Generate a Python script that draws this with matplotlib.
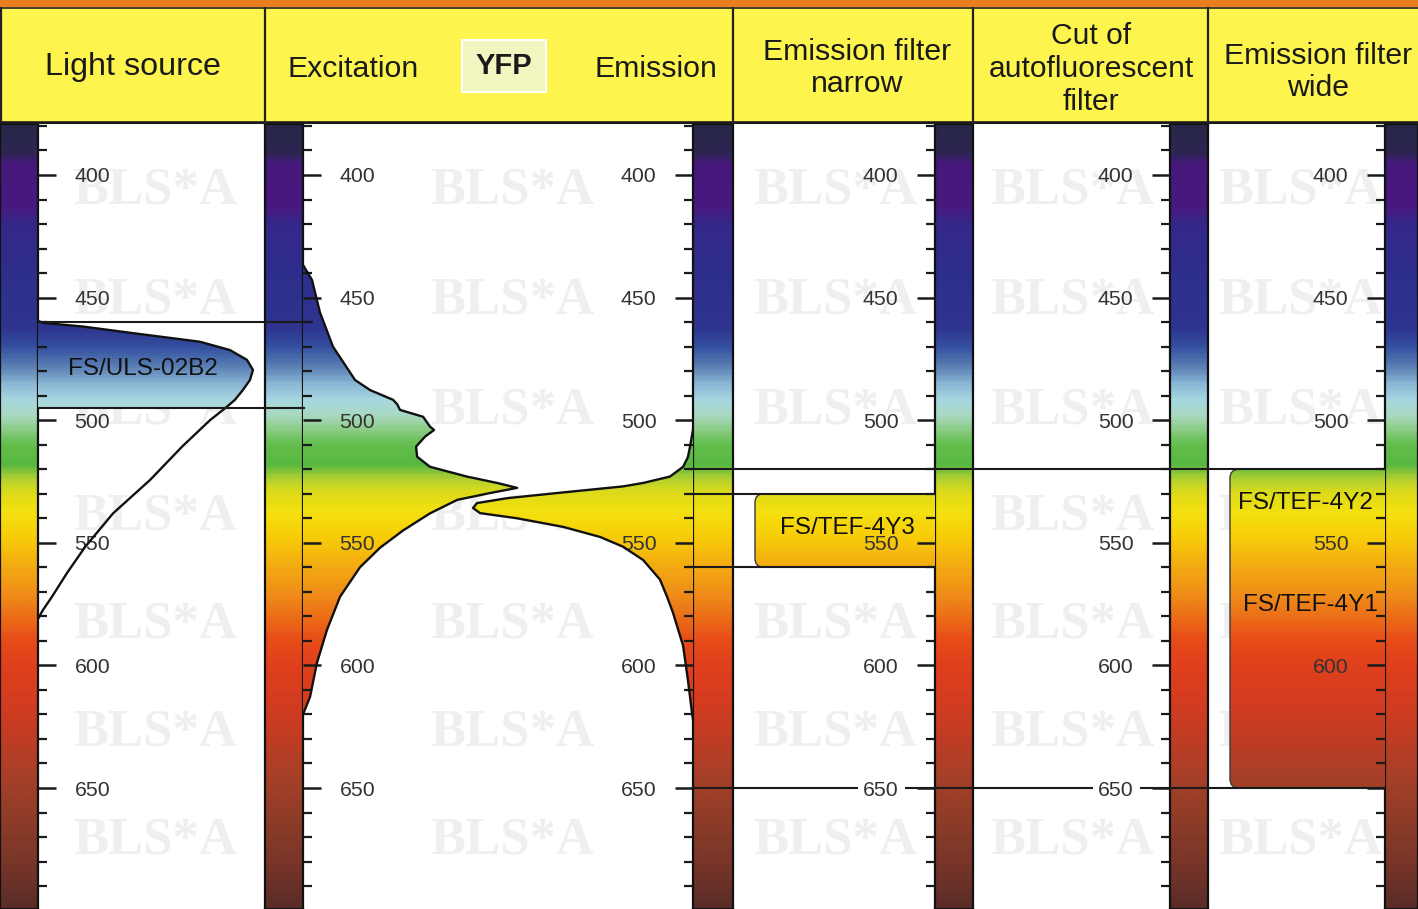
import numpy as np
import matplotlib
matplotlib.use("Agg")
import matplotlib.pyplot as plt
from matplotlib.colors import LinearSegmentedColormap, Normalize
from matplotlib.patches import Rectangle, FancyBboxPatch

# ---------------- data ----------------
# spectral colour scale (wavelength nm -> colour)
spec_nm = [380, 390, 395, 412, 420, 440, 462, 470, 478, 486, 492, 498, 504, 510,
           518, 524, 530, 538, 548, 558, 570, 580, 590, 600, 615, 630, 645, 665, 680, 700]
spec_hex = ['#28264a', '#2c2650', '#46197c', '#48187e', '#34288a', '#2e2e8c', '#2e3490',
            '#3450a0', '#5a80b4', '#90bcd8', '#a8d8e0', '#a8d8c0', '#8ccc84', '#62be4c',
            '#58b840', '#b0d030', '#e0dc18', '#f4e010', '#f8cc08', '#f4b010', '#f09018',
            '#ec7018', '#e84c18', '#e0401c', '#d43c20', '#c03c24', '#a84028', '#8c3c28',
            '#7a3628', '#5a2c28']

# light source FS/ULS-02B2 (relative intensity)
light_nm = [459.5, 460.3, 461.8, 464.5, 468, 471.4, 475.4, 479.5, 483.6, 487.7, 491.7,
            494.5, 500, 510.8, 524.4, 538, 551.7, 562.3, 572, 577.4, 581]
light_int = [0, 0.023, 0.209, 0.442, 0.753, 0.893, 0.972, 1.0, 0.986, 0.953, 0.916,
             0.879, 0.800, 0.670, 0.521, 0.349, 0.219, 0.135, 0.065, 0.023, 0.0]
light_band = [460, 495]

# YFP excitation / emission (relative)
exc_nm = [436.7, 442.8, 456, 470, 483.6, 487.7, 491.7, 493.5, 495.8, 498.6, 502.6, 504,
          506.7, 510.8, 514.9, 519, 523, 525.6, 527.6, 529.7, 532.5, 538, 545, 552, 560,
          572, 585.5, 599, 612.8, 620]
exc_int = [0, 0.042, 0.079, 0.140, 0.243, 0.313, 0.421, 0.440, 0.453, 0.561, 0.593, 0.612,
           0.570, 0.528, 0.533, 0.593, 0.766, 0.907, 1.0, 0.874, 0.720, 0.593, 0.467, 0.360,
           0.266, 0.173, 0.112, 0.065, 0.033, 0.0]
em_nm = [504, 511, 515, 519, 523, 525.6, 527, 529.7, 531.8, 533.8, 535.8, 537.9, 540,
         543.5, 547.6, 551.6, 557, 565, 572, 578.5, 592, 606, 619, 622]
em_int = [0, 0.014, 0.023, 0.045, 0.105, 0.227, 0.318, 0.618, 0.845, 0.982, 1.0, 0.968,
          0.800, 0.591, 0.423, 0.318, 0.227, 0.150, 0.118, 0.091, 0.045, 0.023, 0.005, 0.0]

narrow_band = [530, 560]      # FS/TEF-4Y3
cutoff_nm = 520               # autofluorescence cut
wide_band = [520, 650]        # FS/TEF-4Y2 / 4Y1

major_ticks = [400, 450, 500, 550, 600, 650]
minor_ticks = list(range(380, 700, 10))

headers = ["Light source", "Excitation", "YFP", "Emission", "Emission filter\nnarrow",
           "Cut of\nautofluorescent\nfilter", "Emission filter\nwide"]
filter_labels = ["FS/ULS-02B2", "FS/TEF-4Y3", "FS/TEF-4Y2", "FS/TEF-4Y1"]

# ---------------- layout ----------------
W, H = 1418, 909
TOP, BOT = 124, 909
PX_PER_NM = 2.452
def lam_at(y):
    return 400 + (y - 175) / PX_PER_NM
LAM_TOP, LAM_BOT = lam_at(TOP), lam_at(BOT)

plt.rcParams['font.family'] = ['Liberation Sans', 'DejaVu Sans']
fig = plt.figure(figsize=(W / 100, H / 100), dpi=100)
fig.patch.set_facecolor('white')

cmap = LinearSegmentedColormap.from_list(
    'spec', [((n - 380) / 320, c) for n, c in zip(spec_nm, spec_hex)])
norm = Normalize(380, 700)

def add_ax(x0, x1, y0=TOP, y1=BOT, z=1):
    ax = fig.add_axes([x0 / W, 1 - y1 / H, (x1 - x0) / W, (y1 - y0) / H])
    ax.set_zorder(z)
    ax.patch.set_alpha(0)
    for s in ax.spines.values():
        s.set_visible(False)
    ax.xaxis.set_visible(False)
    return ax

def gradient(ax, x0, x1, lo, hi, **kw):
    vals = np.linspace(lo, hi, 400)[:, None]
    return ax.imshow(vals, extent=[x0, x1, lo, hi], origin='lower', aspect='auto',
                     cmap=cmap, norm=norm, interpolation='bilinear', **kw)

def style_ticks(ax, side, hide=()):
    ax.yaxis.set_ticks_position(side)
    ax.set_yticks(major_ticks)
    ax.set_yticks(minor_ticks, minor=True)
    ax.set_yticklabels(['' if t in hide else str(t) for t in major_ticks])
    ax.tick_params(axis='y', which='major', direction='in', length=13, width=1.8,
                   color='#1a1a1a', pad=-52, labelsize=15.3, labelcolor='#333333')
    ax.tick_params(axis='y', which='minor', direction='in', length=6.5, width=1.6,
                   color='#1a1a1a')
    if side == 'right':
        ax.tick_params(axis='y', which='both', labelright=True, labelleft=False)
    else:
        ax.tick_params(axis='y', which='both', labelright=False, labelleft=True)

# watermarks
for wy in [190, 300, 410, 516, 624, 733, 840]:
    for wx in [155, 512, 835, 1072, 1300]:
        fig.text(wx / W, 1 - wy / H, "BLS*A", fontsize=38, fontweight='bold',
                 family='Liberation Serif', color='#efefef', ha='center', va='center',
                 zorder=0.5)

# colour bars
for x0, x1 in [(0, 38), (265, 303), (693, 733), (935, 973), (1170, 1208), (1385, 1418)]:
    cax = add_ax(x0, x1, z=1)
    gradient(cax, 0, 1, 380, 700)
    cax.set_xlim(0, 1)
    cax.set_ylim(LAM_BOT, LAM_TOP)
    cax.yaxis.set_visible(False)
    for s in cax.spines.values():
        s.set_visible(True)
        s.set_linewidth(1.6)
        s.set_color('#111111')

# light source column
ax1 = add_ax(38, 265, z=3)
x1max = 1 / 0.947
poly = ax1.fill_betweenx(light_nm, 0, light_int, facecolor='none', edgecolor='none')
im = gradient(ax1, 0, x1max, light_band[0], light_band[1])
im.set_clip_path(poly.get_paths()[0], ax1.transData)
ax1.plot(light_int, light_nm, color='#111111', lw=1.7)
ax1.set_xlim(0, x1max)
ax1.set_ylim(LAM_BOT, LAM_TOP)
style_ticks(ax1, 'left')

# excitation / emission column
ax_ex = add_ax(303, 693, z=3)
xex = 1 / 0.549
poly = ax_ex.fill_betweenx(exc_nm, 0, exc_int, facecolor='none', edgecolor='none')
im = gradient(ax_ex, 0, xex, 380, 700)
im.set_clip_path(poly.get_paths()[0], ax_ex.transData)
ax_ex.plot(exc_int, exc_nm, color='#111111', lw=1.7)
ax_ex.set_xlim(0, xex)
ax_ex.set_ylim(LAM_BOT, LAM_TOP)
style_ticks(ax_ex, 'left')

ax_em = add_ax(303, 693, z=3)
xem = 1 / 0.564
poly = ax_em.fill_betweenx(em_nm, 0, em_int, facecolor='none', edgecolor='none')
im = gradient(ax_em, 0, xem, 380, 700)
im.set_clip_path(poly.get_paths()[0], ax_em.transData)
ax_em.plot(em_int, em_nm, color='#111111', lw=1.7)
ax_em.set_xlim(xem, 0)
ax_em.set_ylim(LAM_BOT, LAM_TOP)
style_ticks(ax_em, 'right')

# filter columns (x in pixel units of the column)
def filter_box(ax, x0, x1, band):
    box = FancyBboxPatch((x0, band[0]), x1 - x0, band[1] - band[0],
                         boxstyle="round,pad=0,rounding_size=9",
                         mutation_aspect=1 / PX_PER_NM,
                         facecolor='none', edgecolor='#3a3a3a', lw=1.0, zorder=1.5)
    ax.add_patch(box)
    im = gradient(ax, x0, x1, band[0], band[1], zorder=1)
    im.set_clip_path(box)

ax3 = add_ax(733, 935, z=3)
filter_box(ax3, 755, 960, narrow_band)
ax3.set_xlim(733, 935)
ax3.set_ylim(LAM_BOT, LAM_TOP)
style_ticks(ax3, 'right')

ax4 = add_ax(973, 1170, z=3)
ax4.set_xlim(973, 1170)
ax4.set_ylim(LAM_BOT, LAM_TOP)
style_ticks(ax4, 'right')

ax5 = add_ax(1208, 1385, z=3)
filter_box(ax5, 1230, 1410, wide_band)
ax5.set_xlim(1208, 1385)
ax5.set_ylim(LAM_BOT, LAM_TOP)
style_ticks(ax5, 'right', hide=(650,))

# overlay: spanning lines and filter labels
ov = add_ax(0, W, z=6)
ov.yaxis.set_visible(False)
ov.set_xlim(0, W)
ov.set_ylim(LAM_BOT, LAM_TOP)
lc = '#1a1a1a'
ov.hlines(light_band[0], 38, 313, color=lc, lw=1.5)
ov.hlines(light_band[1], 38, 305, color=lc, lw=1.5)
ov.hlines(cutoff_nm, 687, 1385, color=lc, lw=1.5)
ov.hlines(narrow_band, 687, 935, color=lc, lw=1.5)
for a, b in [(693, 858), (905, 1093), (1140, 1385)]:
    ov.hlines(wide_band[1], a, b, color=lc, lw=1.5)

fl = dict(fontsize=17.5, ha='center', va='center', color='#111111')
ov.text(143, lam_at(369), filter_labels[0], **fl)
ov.text(847, lam_at(528), filter_labels[1], **fl)
ov.text(1305, lam_at(503), filter_labels[2], **fl)
ov.text(1310, lam_at(605), filter_labels[3], **fl)

# header
hd = fig.add_axes([0, 1 - TOP / H, 1, TOP / H])
hd.set_zorder(7)
hd.set_xlim(0, W)
hd.set_ylim(TOP, 0)
hd.axis('off')
hd.add_patch(Rectangle((0, 0), W, TOP, facecolor='#fdf44e', edgecolor='none'))
hd.add_patch(Rectangle((0, 0), W, 7, facecolor='#e87e22', edgecolor='none'))
hd.hlines(7.5, 0, W, color='#222222', lw=1.2)
hd.hlines(122.5, 0, W, color='#1a1a1a', lw=2.6)
hd.vlines([1, 265, 733, 973, 1208], 7, TOP, color='#222222', lw=1.6)
hd.add_patch(Rectangle((462, 40), 84, 52, facecolor='#f3f5c0', edgecolor='white', lw=1.5))
hpos = [(133, 67), (353, 69), (504, 66), (656, 69), (857, 68), (1091, 69), (1318, 72)]
hsize = [23.2, 21.8, 21.0, 21.8, 21.8, 21.6, 21.8]
for (tx, ty), t, fs in zip(hpos, headers, hsize):
    hd.text(tx, ty, t, fontsize=fs, ha='center', va='center', color='#1a1a1a',
            fontweight='bold' if t == 'YFP' else 'normal', linespacing=1.22)

fig.savefig('out.png', dpi=100)
